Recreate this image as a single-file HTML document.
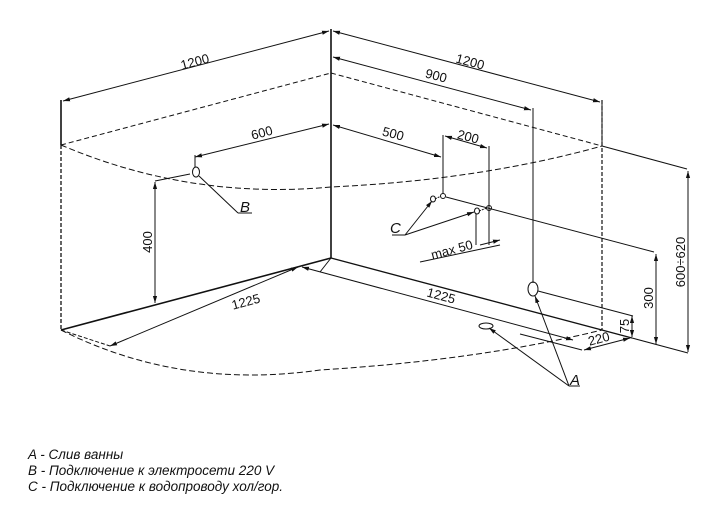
<!DOCTYPE html>
<html><head><meta charset="utf-8"><style>
html,body{margin:0;padding:0;background:#fff;}
svg{display:block;}
text{font-family:"Liberation Sans",Arial,sans-serif;fill:#111;}
</style></head><body>
<svg width="720" height="524" viewBox="0 0 720 524" xmlns="http://www.w3.org/2000/svg">
<defs>
<marker id="ar" viewBox="0 0 10 10" refX="10" refY="5" markerWidth="7" markerHeight="7" orient="auto-start-reverse"><path d="M0,2 L10,5 L0,8 z" fill="#111"/></marker>
</defs>
<g stroke="#111" fill="none" stroke-width="1">
<line x1="331" y1="29" x2="331" y2="258" stroke-width="1.6"/>
<line x1="61" y1="100" x2="61" y2="145" stroke-width="1.6"/>
<line x1="61" y1="145" x2="61" y2="330" stroke-dasharray="4,2" stroke-width="1.3"/>
<line x1="61" y1="330" x2="331" y2="258" stroke-width="1.6"/>
<line x1="331" y1="258" x2="632" y2="338" stroke-width="1.4"/>
<line x1="632" y1="338" x2="688" y2="353"/>
<line x1="602" y1="100" x2="602" y2="330" stroke-dasharray="4,2" stroke-width="1.2"/>
<line x1="61" y1="145" x2="331" y2="73" stroke-dasharray="5,3"/>
<line x1="331" y1="73" x2="602" y2="146" stroke-dasharray="5,3"/>
<line x1="602" y1="146" x2="687" y2="169"/>
<path d="M61,145 Q190,200 331,187 Q480,180 602,146" stroke-dasharray="6,3"/>
<path d="M61,330 Q180,390 320,370 Q480,360 602,330" stroke-dasharray="6,3"/>
<line x1="63" y1="101" x2="329" y2="31" marker-start="url(#ar)" marker-end="url(#ar)"/>
<line x1="333" y1="31" x2="600" y2="102" marker-start="url(#ar)" marker-end="url(#ar)"/>
<line x1="602" y1="100" x2="602" y2="146"/>
<line x1="333" y1="57" x2="531" y2="110" marker-start="url(#ar)" marker-end="url(#ar)"/>
<line x1="533" y1="108" x2="533" y2="283"/>
<line x1="195" y1="157" x2="329" y2="124" marker-start="url(#ar)" marker-end="url(#ar)"/>
<line x1="195" y1="155" x2="195" y2="167"/>
<ellipse cx="196" cy="172" rx="3.5" ry="5"/>
<line x1="199" y1="176" x2="238" y2="213"/>
<line x1="238" y1="213" x2="252" y2="213"/>
<line x1="155" y1="182" x2="155" y2="303" marker-start="url(#ar)" marker-end="url(#ar)"/>
<line x1="155" y1="181" x2="190" y2="174"/>
<line x1="333" y1="125" x2="441" y2="157" marker-start="url(#ar)" marker-end="url(#ar)"/>
<line x1="443" y1="135" x2="443" y2="194"/>
<line x1="489" y1="146" x2="489" y2="245"/>
<line x1="445" y1="136" x2="487" y2="148" marker-start="url(#ar)" marker-end="url(#ar)"/>
<circle cx="443" cy="196" r="2.5"/>
<circle cx="489" cy="208" r="2.5"/>
<ellipse cx="433" cy="199" rx="2.5" ry="3"/>
<ellipse cx="477" cy="211" rx="2.5" ry="3"/>
<line x1="435" y1="199" x2="441" y2="196" stroke-dasharray="2,1"/>
<line x1="479" y1="211" x2="487" y2="208" stroke-dasharray="2,1"/>
<line x1="446" y1="197" x2="654" y2="252"/>
<line x1="476" y1="214" x2="476" y2="245"/>
<line x1="405" y1="235" x2="432" y2="201" marker-end="url(#ar)"/>
<line x1="405" y1="235" x2="474" y2="212" marker-end="url(#ar)"/>
<line x1="392" y1="235" x2="405" y2="235"/>
<line x1="420" y1="262" x2="500" y2="245"/>
<line x1="480" y1="245" x2="500" y2="240" marker-end="url(#ar)"/>
<line x1="656" y1="254" x2="656" y2="344" marker-start="url(#ar)" marker-end="url(#ar)"/>
<line x1="688" y1="171" x2="688" y2="352" marker-start="url(#ar)" marker-end="url(#ar)"/>
<ellipse cx="533" cy="289" rx="5" ry="7"/>
<line x1="538" y1="291" x2="633" y2="316"/>
<line x1="632" y1="316" x2="632" y2="337" marker-start="url(#ar)" marker-end="url(#ar)"/>
<ellipse cx="486" cy="326" rx="7" ry="3"/>
<line x1="569" y1="386" x2="535" y2="296" marker-end="url(#ar)"/>
<line x1="569" y1="386" x2="489" y2="328" marker-end="url(#ar)"/>
<line x1="569" y1="386" x2="580" y2="386"/>
<line x1="584" y1="350" x2="630" y2="338" marker-start="url(#ar)" marker-end="url(#ar)"/>
<line x1="582" y1="350" x2="520" y2="334"/>
<line x1="61" y1="330" x2="110" y2="346" stroke-dasharray="4,2"/>
<line x1="110" y1="346" x2="298" y2="267" marker-start="url(#ar)" marker-end="url(#ar)"/>
<line x1="302" y1="267" x2="573" y2="340" marker-start="url(#ar)" marker-end="url(#ar)"/>
<line x1="320" y1="272" x2="331" y2="258"/>
</g>
<g font-size="13">
<text x="196" y="66" transform="rotate(-15 196 66)" text-anchor="middle">1200</text>
<text x="469" y="66" transform="rotate(15 469 66)" text-anchor="middle">1200</text>
<text x="435" y="80" transform="rotate(15 435 80)" text-anchor="middle">900</text>
<text x="263" y="137" transform="rotate(-15 263 137)" text-anchor="middle">600</text>
<text x="392" y="138" transform="rotate(15 392 138)" text-anchor="middle">500</text>
<text x="467" y="141" transform="rotate(15 467 141)" text-anchor="middle">200</text>
<text x="152" y="242" transform="rotate(-90 152 242)" text-anchor="middle">400</text>
<text x="247" y="306" transform="rotate(-15 247 306)" text-anchor="middle">1225</text>
<text x="440" y="300" transform="rotate(15 440 300)" text-anchor="middle">1225</text>
<text x="453" y="254" transform="rotate(-15 453 254)" text-anchor="middle">max  50</text>
<text x="653" y="298" transform="rotate(-90 653 298)" text-anchor="middle">300</text>
<text x="685" y="262" transform="rotate(-90 685 262)" text-anchor="middle">600÷620</text>
<text x="629" y="326" transform="rotate(-90 629 326)" text-anchor="middle">75</text>
<text x="600" y="343" transform="rotate(-15 600 343)" text-anchor="middle">220</text>
<text x="240" y="212" font-size="15" font-style="italic">B</text>
<text x="390" y="233" font-size="15" font-style="italic">C</text>
<text x="570" y="385" font-size="15" font-style="italic">A</text>
</g>
<g font-size="13.5" font-style="italic">
<text x="28" y="459">A - Слив ванны</text>
<text x="28" y="475">B - Подключение к электросети 220 V</text>
<text x="28" y="491">C - Подключение к водопроводу хол/гор.</text>
</g>
</svg>
</body></html>
